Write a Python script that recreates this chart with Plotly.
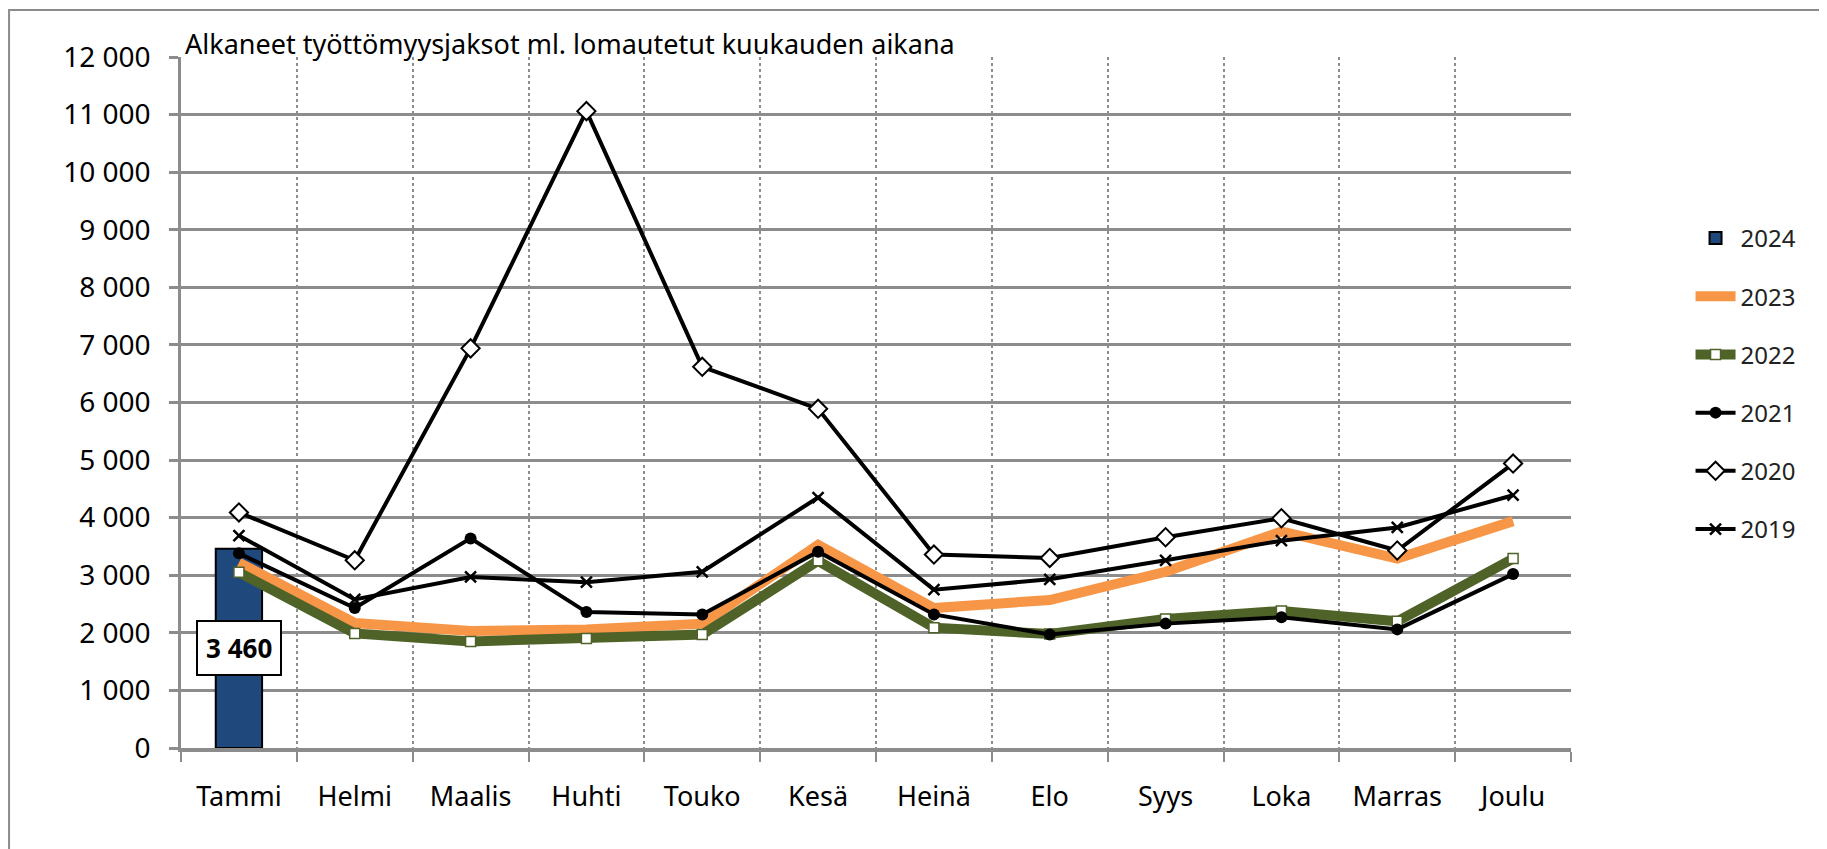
import plotly.graph_objects as go

months = ["Tammi", "Helmi", "Maalis", "Huhti", "Touko", "Kesä", "Heinä", "Elo", "Syys", "Loka", "Marras", "Joulu"]
v2024 = [3460]
v2023 = [3220, 2170, 2030, 2060, 2160, 3530, 2430, 2570, 3060, 3760, 3290, 3940]
v2022 = [3050, 1990, 1850, 1900, 1970, 3250, 2090, 1980, 2240, 2380, 2200, 3290]
v2021 = [3380, 2430, 3640, 2360, 2320, 3410, 2320, 1970, 2160, 2270, 2060, 3020]
v2020 = [4090, 3260, 6940, 11060, 6620, 5890, 3360, 3300, 3660, 3990, 3430, 4940]
v2019 = [3690, 2580, 2970, 2880, 3060, 4350, 2750, 2930, 3260, 3600, 3830, 4390]
title_text = "Alkaneet työttömyysjaksot ml. lomautetut kuukauden aikana"

FONT = "Noto Sans"
fig = go.Figure()

fig.add_trace(go.Bar(x=months[:len(v2024)], y=v2024, name="2024", width=0.4,
                     marker=dict(color="#1F497D", line=dict(color="black", width=2)),
                     legendgroup="a"))
fig.add_trace(go.Scatter(x=months, y=v2023, name="2023", mode="lines",
                         line=dict(color="#F79646", width=10), legendgroup="b"))
fig.add_trace(go.Scatter(x=months, y=v2022, name="2022", mode="lines+markers",
                         line=dict(color="#4F6228", width=10),
                         marker=dict(symbol="square", size=10, color="white",
                                     line=dict(color="#4F6228", width=1.5)),
                         legendgroup="c"))
fig.add_trace(go.Scatter(x=months, y=v2021, name="2021", mode="lines+markers",
                         line=dict(color="black", width=4),
                         marker=dict(symbol="circle", size=12, color="black"),
                         legendgroup="d"))
fig.add_trace(go.Scatter(x=months, y=v2020, name="2020", mode="lines+markers",
                         line=dict(color="black", width=4),
                         marker=dict(symbol="diamond", size=14, color="white",
                                     line=dict(color="black", width=2)),
                         legendgroup="e"))
fig.add_trace(go.Scatter(x=months, y=v2019, name="2019", mode="lines+markers",
                         line=dict(color="black", width=4),
                         marker=dict(symbol="x-thin", size=11, color="black",
                                     line=dict(color="black", width=2.5)),
                         legendgroup="f"))

# data label for 2024 bar
fig.add_annotation(x=months[0], y=v2024[0] / 2, text="<b>" + f"{v2024[0]:,}".replace(",", " ") + "</b>",
                   showarrow=False, font=dict(family=FONT, size=26, color="black"),
                   bgcolor="white", bordercolor="black", borderwidth=2, borderpad=8)

# chart title
fig.add_annotation(x=0, y=1, xref="paper", yref="paper", xanchor="left", yanchor="bottom",
                   xshift=2, yshift=-7, text=title_text, showarrow=False,
                   font=dict(family=FONT, size=27, color="black"))

# outer border
fig.add_shape(type="rect", xref="paper", yref="paper",
              x0=-0.1237, x1=1.1813, y0=-0.2, y1=1.068,
              line=dict(color="#8c8c8c", width=2), fillcolor="rgba(0,0,0,0)", layer="below")

fig.update_layout(
    width=1819, height=841,
    margin=dict(l=173, r=256, t=49, b=101),
    paper_bgcolor="white", plot_bgcolor="white",
    separators=", ",
    showlegend=True,
    bargap=0.6,
    font=dict(family=FONT, color="black"),
    legend=dict(x=1.086, xanchor="left", y=0.77, yanchor="top",
                font=dict(family=FONT, size=24, color="#222"),
                tracegroupgap=24, itemwidth=40, bgcolor="rgba(0,0,0,0)"),
    xaxis=dict(type="category", tickson="boundaries", ticks="outside", ticklen=10,
               tickwidth=2, tickcolor="#8c8c8c",
               showgrid=True, gridcolor="#8c8c8c", griddash="dot", gridwidth=2,
               showline=True, linecolor="#8c8c8c", linewidth=4,
               tickfont=dict(family=FONT, size=27, color="black"),
               ticklabelstandoff=22, range=[-0.5, 11.5], fixedrange=True),
    yaxis=dict(range=[0, 12000], dtick=1000, tickformat=",d",
               ticks="outside", ticklen=9, tickwidth=2.5, tickcolor="#8c8c8c",
               showgrid=True, gridcolor="#8c8c8c", gridwidth=2.5,
               showline=True, linecolor="#8c8c8c", linewidth=2.5,
               zeroline=False,
               tickfont=dict(family=FONT, size=28, color="black"),
               ticklabelstandoff=13),
)

fig.write_html("out.html")
